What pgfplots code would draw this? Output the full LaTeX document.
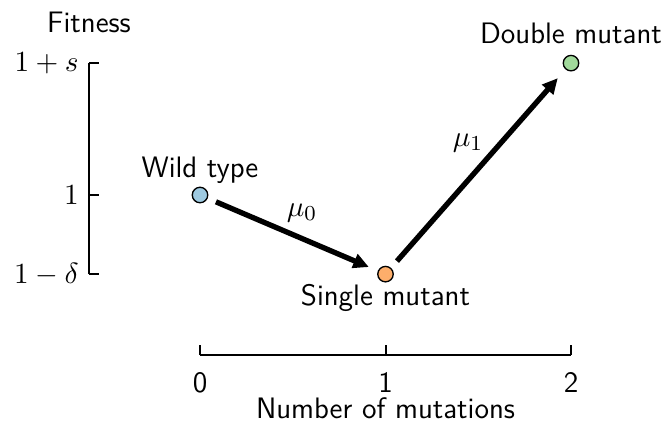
\documentclass[border=0pt]{standalone}
\usepackage{pgfplots}
\pgfplotsset{compat=1.18}
\usetikzlibrary{arrows.meta}
\definecolor{wtblue}{HTML}{9ECAE1}
\definecolor{smorange}{HTML}{FDAE6B}
\definecolor{dmgreen}{HTML}{A1D99B}
\newcommand{\fs}{\fontsize{11.1}{13.3}\selectfont}
\begin{document}
\begin{tikzpicture}
\fs
\begin{axis}[
  name=main,
  scale only axis,
  width=139.125pt, height=79.125pt,
  xmin=0, xmax=2, ymin=0.7, ymax=1.5,
  clip=false,
  axis x line=bottom, axis y line=none,
  axis line style={-, line width=0.75pt},
  axis x line shift=30.4pt,
  tick align=inside,
  major tick length=3.75pt,
  tick style={line width=0.75pt, black},
  xtick={0,1,2}, xticklabels={0,1,2},
  xticklabel style={font=\sffamily\fs, inner sep=0pt, yshift=-6.3pt},
]
\coordinate (bbA) at (axis cs:-1.0782,0.1014);
\coordinate (bbB) at (axis cs:2.5175,1.7393);
\addplot[-{Triangle[length=5.8pt,width=5.4pt]}, line width=2pt, shorten >=6.8pt, shorten <=6.5pt] coordinates {(0,1) (1,0.7)};
\addplot[-{Triangle[length=5.8pt,width=5.4pt]}, line width=2pt, shorten >=7.5pt, shorten <=6.5pt] coordinates {(1,0.7) (2,1.5)};
\addplot[only marks, mark=*, mark size=2.9pt, mark options={fill=wtblue, draw=black, line width=0.5pt}] coordinates {(0,1)};
\addplot[only marks, mark=*, mark size=2.9pt, mark options={fill=smorange, draw=black, line width=0.5pt}] coordinates {(1,0.7)};
\addplot[only marks, mark=*, mark size=2.9pt, mark options={fill=dmgreen, draw=black, line width=0.5pt}] coordinates {(2,1.5)};
\node[font=\sffamily\fs] at (axis cs:0,1.0948) {Wild type};
\node[font=\sffamily\fs] at (axis cs:1,0.6095) {Single mutant};
\node[font=\sffamily\fs] at (axis cs:2,1.6142) {Double mutant};
\node[font=\fs] at (axis cs:0.55,0.9318) {$\mu_0$};
\node[font=\fs] at (axis cs:1.4447,1.197) {$\mu_1$};
\node[font=\sffamily\fs, inner sep=0pt] at (axis cs:1,0.1905) {Number of mutations};
\end{axis}
\begin{axis}[
  at={(main.south west)}, anchor=south west, xshift=-41.625pt,
  scale only axis,
  width=10pt, height=79.125pt,
  xmin=0, xmax=1, ymin=0.7, ymax=1.5,
  clip=false,
  axis y line=left, axis x line=none,
  axis line style={-, line width=0.75pt},
  tick align=inside,
  major tick length=3.75pt,
  tick style={line width=0.75pt, black},
  ytick={0.7,1,1.5}, yticklabels={$1-\delta$,$1$,$1+s$},
  yticklabel style={font=\fs},
]
\node[font=\sffamily\fs] at (axis cs:0,1.656) {Fitness};
\end{axis}
\pgfresetboundingbox
\useasboundingbox (bbA) rectangle (bbB);
\end{tikzpicture}
\end{document}
